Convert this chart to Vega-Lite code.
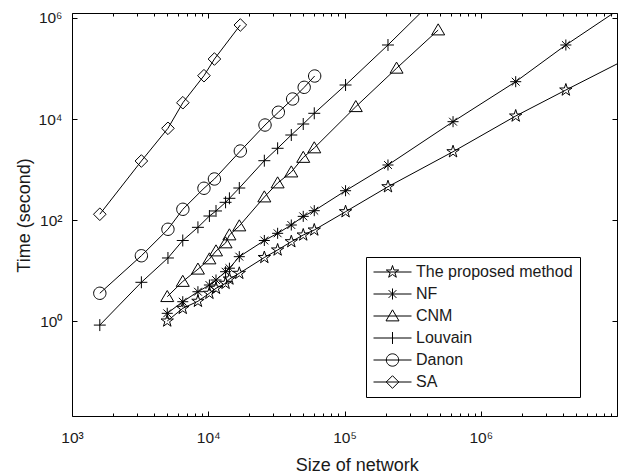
{
  "$schema": "https://vega.github.io/schema/vega-lite/v6.json",
  "width": 545,
  "height": 403,
  "autosize": {"type": "none"},
  "padding": {"left": 72, "top": 13, "right": 1, "bottom": 59},
  "background": "white",
  "config": {
    "view": {"stroke": "black", "strokeWidth": 1},
    "font": "Liberation Sans",
    "axis": {
      "domain": false,
      "grid": false,
      "tickColor": "black",
      "tickWidth": 1,
      "labelColor": "#1a1a1a",
      "labelFont": "Liberation Sans",
      "labelFontSize": 15.5,
      "labelFlush": false,
      "labelOverlap": false,
      "titleFont": "Liberation Sans",
      "titleFontSize": 18,
      "titleFontWeight": "normal",
      "titleColor": "#1a1a1a"
    }
  },
  "data": {
    "values": [
      {"method": "The proposed method", "x": 5000, "y": 1.0},
      {"method": "The proposed method", "x": 6500, "y": 1.78},
      {"method": "The proposed method", "x": 8400, "y": 2.46},
      {"method": "The proposed method", "x": 10200, "y": 3.54},
      {"method": "The proposed method", "x": 11400, "y": 4.44},
      {"method": "The proposed method", "x": 13400, "y": 5.58},
      {"method": "The proposed method", "x": 14300, "y": 6.79},
      {"method": "The proposed method", "x": 16900, "y": 8.8},
      {"method": "The proposed method", "x": 25800, "y": 18.1},
      {"method": "The proposed method", "x": 32300, "y": 25.5},
      {"method": "The proposed method", "x": 40700, "y": 37.2},
      {"method": "The proposed method", "x": 49800, "y": 50.5},
      {"method": "The proposed method", "x": 60000, "y": 63.4},
      {"method": "The proposed method", "x": 101800, "y": 146},
      {"method": "The proposed method", "x": 208500, "y": 456},
      {"method": "The proposed method", "x": 626000, "y": 2250},
      {"method": "The proposed method", "x": 1805000, "y": 11460},
      {"method": "The proposed method", "x": 4213000, "y": 37500},
      {"method": "The proposed method", "x": 12000000, "y": 158000},
      {"method": "NF", "x": 5000, "y": 1.42},
      {"method": "NF", "x": 6500, "y": 2.41},
      {"method": "NF", "x": 8400, "y": 3.8},
      {"method": "NF", "x": 10200, "y": 5.16},
      {"method": "NF", "x": 11400, "y": 6.48},
      {"method": "NF", "x": 13400, "y": 9.47},
      {"method": "NF", "x": 14300, "y": 11.1},
      {"method": "NF", "x": 16900, "y": 18.8},
      {"method": "NF", "x": 25800, "y": 39.3},
      {"method": "NF", "x": 32300, "y": 54.5},
      {"method": "NF", "x": 40700, "y": 79.6},
      {"method": "NF", "x": 49800, "y": 118},
      {"method": "NF", "x": 60000, "y": 153},
      {"method": "NF", "x": 101800, "y": 380},
      {"method": "NF", "x": 208500, "y": 1228},
      {"method": "NF", "x": 626000, "y": 8850},
      {"method": "NF", "x": 1805000, "y": 54800},
      {"method": "NF", "x": 4213000, "y": 292000},
      {"method": "NF", "x": 12000000, "y": 1940000},
      {"method": "CNM", "x": 5000, "y": 3.03},
      {"method": "CNM", "x": 6500, "y": 6.06},
      {"method": "CNM", "x": 8400, "y": 10.6},
      {"method": "CNM", "x": 10200, "y": 16.9},
      {"method": "CNM", "x": 11400, "y": 24.3},
      {"method": "CNM", "x": 13400, "y": 35.1},
      {"method": "CNM", "x": 14300, "y": 50.5},
      {"method": "CNM", "x": 16900, "y": 76.1},
      {"method": "CNM", "x": 25800, "y": 285},
      {"method": "CNM", "x": 32300, "y": 540},
      {"method": "CNM", "x": 40700, "y": 890},
      {"method": "CNM", "x": 49800, "y": 1730},
      {"method": "CNM", "x": 60000, "y": 2670},
      {"method": "CNM", "x": 121000, "y": 17500},
      {"method": "CNM", "x": 241000, "y": 101000},
      {"method": "CNM", "x": 487000, "y": 578000},
      {"method": "Louvain", "x": 1600, "y": 0.83},
      {"method": "Louvain", "x": 3230, "y": 5.84},
      {"method": "Louvain", "x": 5060, "y": 17.7},
      {"method": "Louvain", "x": 6500, "y": 39.3},
      {"method": "Louvain", "x": 8400, "y": 71.6},
      {"method": "Louvain", "x": 10200, "y": 120},
      {"method": "Louvain", "x": 11400, "y": 151},
      {"method": "Louvain", "x": 13400, "y": 224},
      {"method": "Louvain", "x": 14300, "y": 269},
      {"method": "Louvain", "x": 16900, "y": 430},
      {"method": "Louvain", "x": 25800, "y": 1494},
      {"method": "Louvain", "x": 32300, "y": 2630},
      {"method": "Louvain", "x": 40700, "y": 4820},
      {"method": "Louvain", "x": 49800, "y": 7960},
      {"method": "Louvain", "x": 60000, "y": 12970},
      {"method": "Louvain", "x": 101800, "y": 47100},
      {"method": "Louvain", "x": 208500, "y": 292000},
      {"method": "Louvain", "x": 626000, "y": 5400000},
      {"method": "Danon", "x": 1600, "y": 3.54},
      {"method": "Danon", "x": 3230, "y": 19.6},
      {"method": "Danon", "x": 5060, "y": 65.5},
      {"method": "Danon", "x": 6510, "y": 163},
      {"method": "Danon", "x": 9300, "y": 425},
      {"method": "Danon", "x": 11100, "y": 649},
      {"method": "Danon", "x": 17200, "y": 2323},
      {"method": "Danon", "x": 26100, "y": 7600},
      {"method": "Danon", "x": 32700, "y": 13600},
      {"method": "Danon", "x": 41600, "y": 24900},
      {"method": "Danon", "x": 50600, "y": 42400},
      {"method": "Danon", "x": 60400, "y": 71000},
      {"method": "SA", "x": 1600, "y": 130},
      {"method": "SA", "x": 3230, "y": 1473},
      {"method": "SA", "x": 5060, "y": 6540},
      {"method": "SA", "x": 6510, "y": 21000},
      {"method": "SA", "x": 9300, "y": 72000},
      {"method": "SA", "x": 11100, "y": 154000},
      {"method": "SA", "x": 17200, "y": 727000}
    ]
  },
  "layer": [
    {
      "mark": {"type": "line", "color": "black", "strokeWidth": 1, "clip": true},
      "encoding": {
        "x": {
          "field": "x", "type": "quantitative",
          "scale": {"type": "log", "domain": [1000, 10000000], "nice": false},
          "axis": {
            "orient": "bottom",
            "values": [1000, 10000, 100000, 1000000, 10000000],
            "labelExpr": "datum.value == 1000 ? '10³' : datum.value == 10000 ? '10⁴' : datum.value == 100000 ? '10⁵' : datum.value == 1000000 ? '10⁶' : ''",
            "tickSize": -5,
            "labelPadding": 19,
            "labelBaseline": "top",
            "title": "Size of network",
            "titleX": 284.7,
            "titleY": 54,
            "titleBaseline": "alphabetic"
          }
        },
        "y": {
          "field": "y", "type": "quantitative",
          "scale": {"type": "log", "domain": [0.01315, 1256000], "nice": false},
          "axis": {
            "orient": "left",
            "values": [1, 100, 10000, 1000000],
            "labelExpr": "datum.value == 1 ? '10⁰' : datum.value == 100 ? '10²' : datum.value == 10000 ? '10⁴' : datum.value == 1000000 ? '10⁶' : ''",
            "tickSize": -5,
            "labelPadding": 15,
            "title": "Time (second)",
            "titleX": -43,
            "titleY": 202,
            "titleAngle": -90,
            "titleAlign": "center",
            "titleBaseline": "alphabetic"
          }
        },
        "detail": {"field": "method"}
      }
    },
    {
      "mark": {"type": "point", "filled": false, "color": "black", "strokeWidth": 1, "size": 169, "opacity": 1, "clip": true},
      "encoding": {
        "x": {
          "field": "x", "type": "quantitative",
          "scale": {"type": "log", "domain": [1000, 10000000], "nice": false},
          "axis": {
            "orient": "bottom",
            "values": [2000, 3000, 4000, 5000, 6000, 7000, 8000, 9000, 20000, 30000, 40000, 50000, 60000, 70000, 80000, 90000, 200000, 300000, 400000, 500000, 600000, 700000, 800000, 900000, 2000000, 3000000, 4000000, 5000000, 6000000, 7000000, 8000000, 9000000],
            "labels": false,
            "tickSize": -3,
            "title": null
          }
        },
        "y": {
          "field": "y", "type": "quantitative",
          "scale": {"type": "log", "domain": [0.01315, 1256000], "nice": false},
          "axis": {
            "orient": "right",
            "values": [1, 100, 10000, 1000000],
            "labels": false,
            "tickSize": -5,
            "title": null
          }
        },
        "shape": {
          "field": "method", "type": "nominal",
          "scale": {
            "domain": ["The proposed method", "NF", "CNM", "Louvain", "Danon", "SA"],
            "range": [
              "M0,-1L0.2245,-0.309L0.9511,-0.309L0.3633,0.118L0.5878,0.809L0,0.382L-0.5878,0.809L-0.3633,0.118L-0.9511,-0.309L-0.2245,-0.309Z",
              "M-0.85,0L0.85,0M0,-0.85L0,0.85M-0.6,-0.6L0.6,0.6M-0.6,0.6L0.6,-0.6",
              "M0,-0.95L1,0.75L-1,0.75Z",
              "M-0.92,0L0.92,0M0,-0.92L0,0.92",
              "M0.95,0A0.95,0.95,0,1,1,-0.95,0A0.95,0.95,0,1,1,0.95,0Z",
              "M0,-0.97L0.97,0L0,0.97L-0.97,0Z"
            ]
          },
          "legend": null
        }
      }
    },
    {
      "transform": [{"filter": {"field": "method", "equal": "__none__"}}],
      "mark": {"type": "point", "filled": false, "color": "black", "strokeWidth": 1, "size": 256, "opacity": 1},
      "encoding": {
        "x": {
          "field": "x", "type": "quantitative",
          "scale": {"type": "log", "domain": [1000, 10000000], "nice": false},
          "axis": {
            "orient": "top",
            "values": [1000, 10000, 100000, 1000000, 10000000],
            "labels": false,
            "tickSize": -5,
            "title": null
          }
        },
        "y": {
          "field": "y", "type": "quantitative",
          "scale": {"type": "log", "domain": [0.01315, 1256000], "nice": false},
          "axis": null
        },
        "shape": {
          "field": "method", "type": "nominal",
          "scale": {
            "domain": ["The proposed method", "NF", "CNM", "Louvain", "Danon", "SA"],
            "range": [
              "M-2.375,0L2.375,0M0,-0.8125L0.1824,-0.2511L0.7728,-0.2511L0.2952,0.0959L0.4776,0.6573L0,0.3104L-0.4776,0.6573L-0.2952,0.0959L-0.7728,-0.2511L-0.1824,-0.2511Z",
              "M-2.375,0L2.375,0M0,-0.6906L0,0.6906M-0.4875,-0.4875L0.4875,0.4875M-0.4875,0.4875L0.4875,-0.4875",
              "M-2.375,0L2.375,0M0,-0.7719L0.8125,0.6094L-0.8125,0.6094Z",
              "M-2.375,0L2.375,0M0,-0.7475L0,0.7475",
              "M-2.375,0L2.375,0M0.7719,0A0.7719,0.7719,0,1,1,-0.7719,0A0.7719,0.7719,0,1,1,0.7719,0Z",
              "M-2.375,0L2.375,0M0,-0.7881L0.7881,0L0,0.7881L-0.7881,0Z"
            ]
          },
          "legend": {
            "orient": "none",
            "legendX": 294,
            "legendY": 244,
            "title": null,
            "padding": 6.5,
            "strokeColor": "black",
            "fillColor": "white",
            "cornerRadius": 0,
            "labelFont": "Liberation Sans",
            "labelFontSize": 16,
            "labelColor": "#1a1a1a",
            "labelOffset": 15,
            "symbolOffset": 11.5,
            "rowPadding": 5,
            "symbolSize": 256,
            "symbolStrokeColor": "black",
            "symbolStrokeWidth": 1,
            "symbolFillColor": "transparent",
            "symbolOpacity": 1
          }
        }
      }
    },
    {
      "transform": [{"filter": {"field": "method", "equal": "__none__"}}],
      "mark": {"type": "point", "opacity": 0},
      "encoding": {
        "x": {
          "field": "x", "type": "quantitative",
          "scale": {"type": "log", "domain": [1000, 10000000], "nice": false},
          "axis": {
            "orient": "top",
            "values": [2000, 3000, 4000, 5000, 6000, 7000, 8000, 9000, 20000, 30000, 40000, 50000, 60000, 70000, 80000, 90000, 200000, 300000, 400000, 500000, 600000, 700000, 800000, 900000, 2000000, 3000000, 4000000, 5000000, 6000000, 7000000, 8000000, 9000000],
            "labels": false,
            "tickSize": -3,
            "title": null
          }
        },
        "y": {
          "field": "y", "type": "quantitative",
          "scale": {"type": "log", "domain": [0.01315, 1256000], "nice": false},
          "axis": null
        }
      }
    }
  ],
  "resolve": {
    "scale": {"shape": "independent"},
    "axis": {"x": "independent", "y": "independent"}
  }
}
